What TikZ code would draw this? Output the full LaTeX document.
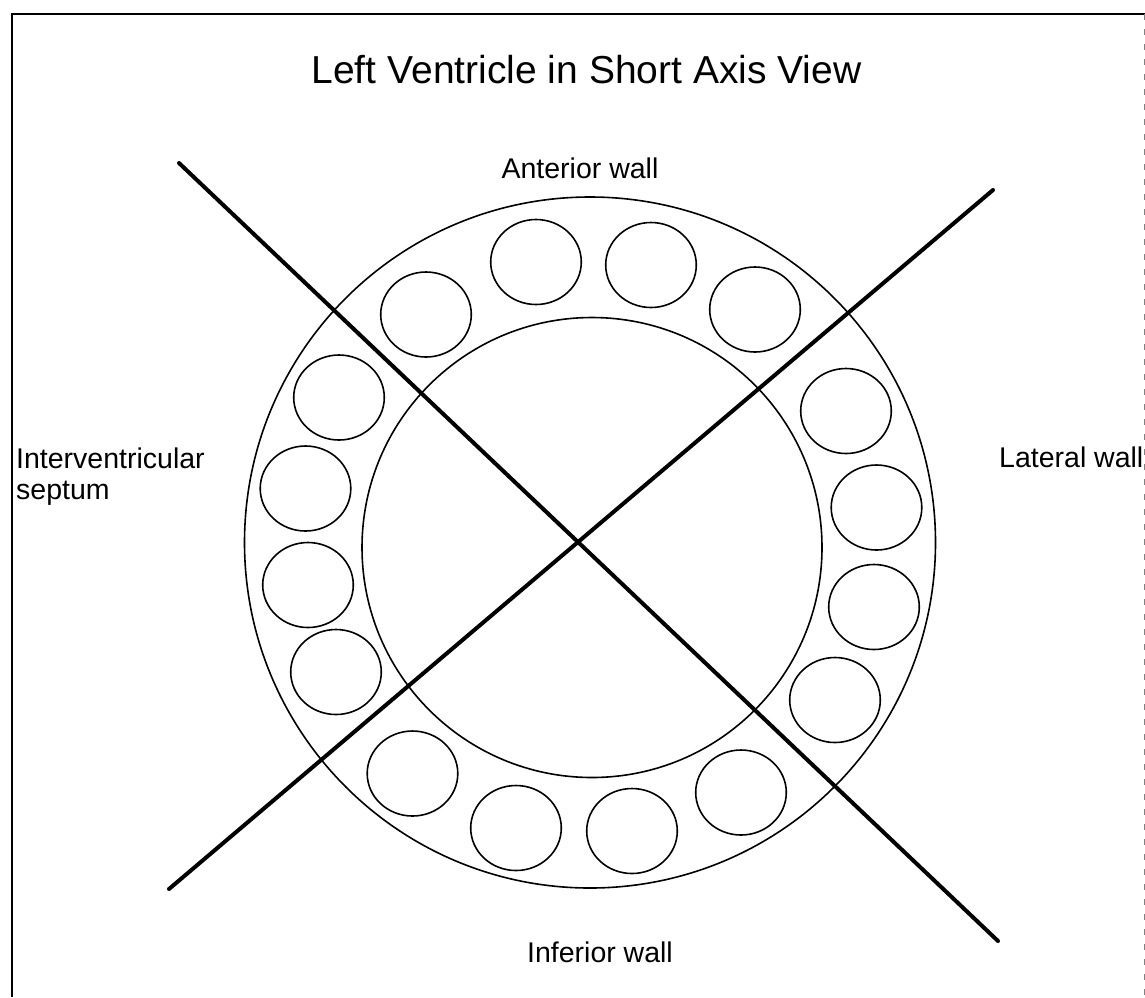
\documentclass[tikz,border=0pt]{standalone}
\usepackage{fontspec}
\setmainfont{Liberation Sans}
\begin{document}
\begin{tikzpicture}[x=1pt,y=-1pt,
  wall/.style={line width=1.6pt},
  cell/.style={line width=1.6pt},
  axisline/.style={line width=4pt, line cap=round},
  framestroke/.style={line width=2pt},
  lbl/.style={font=\fontsize{28.5}{33}\selectfont, inner sep=0pt},
  ttl/.style={font=\fontsize{39}{45}\selectfont, inner sep=0pt},
]
\useasboundingbox (0,0) rectangle (1145,997);
\fill[white] (0,0) rectangle (1145,997);
% frame
\draw[framestroke] (12,997) -- (12,14) -- (1145,14);
\draw[gray, line width=1pt, dash pattern=on 6pt off 9pt] (1144,14) -- (1144,997);
% walls
\draw[wall] (590,542.5) circle[radius=345.5pt];
\draw[wall] (592,547.5) circle[radius=230pt];
% cells
\foreach \cx/\cy in {426/314.5, 536/262, 651/265, 755/309.5,
                     339/397.5, 305.5/488.5, 308/585, 336/672,
                     846/411, 876.5/507.5, 874/607, 835/700,
                     412.5/773.5, 516/828, 632/831, 741/792.5}
  \draw[cell] (\cx,\cy) ellipse[x radius=45.3pt, y radius=42.5pt];
% axis lines
\coordinate (l1a) at (179,163);
\coordinate (l1b) at (998,941);
\coordinate (l2a) at (169,889);
\coordinate (l2b) at (993,190);
\draw[axisline] (l1a) -- (l1b);
\draw[axisline] (l2a) -- (l2b);
% texts
\node[ttl, anchor=base] (title) at (586.5,83) {Left Ventricle in Short Axis View};
\node[lbl, anchor=base] (ant) at (580,178) {Anterior wall};
\node[lbl, anchor=base] (inf) at (600,962) {Inferior wall};
\node[lbl, anchor=base west] (sep1) at (16,468) {Interventricular};
\node[lbl, anchor=base west] (sep2) at (16,499) {septum};
\node[lbl, anchor=base west] (lat) at (999,467) {Lateral wall};
\end{tikzpicture}
\end{document}
